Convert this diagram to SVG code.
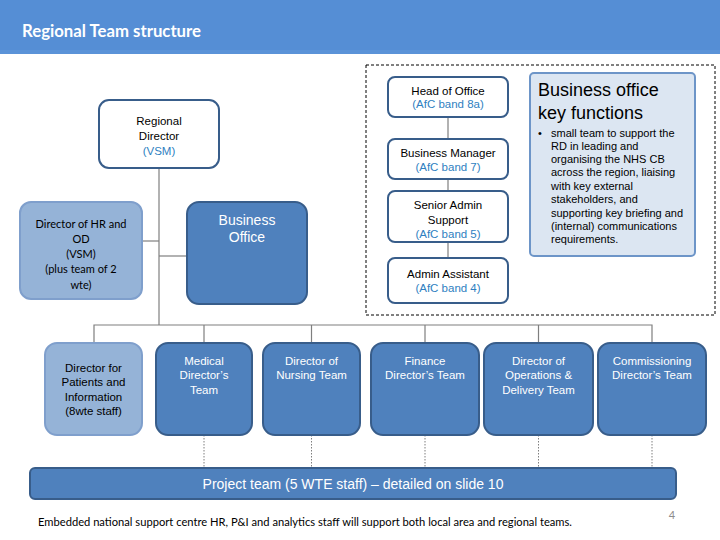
<svg xmlns="http://www.w3.org/2000/svg" width="720" height="540" viewBox="0 0 720 540">
<style>
.t{font-family:"Liberation Sans",Arial,sans-serif;font-size:11.5px;text-anchor:middle}
.big{font-size:14px}
.dk{fill:#000}
.wh{fill:#fff}
.bl{fill:#2F7FC1}
.white{fill:#fff;stroke:#385D8A;stroke-width:2}
.dark{fill:#4F81BD;stroke:#385D8A;stroke-width:2}
.light{fill:#95B3D7;stroke:#7F9FCC;stroke-width:2}
.con{stroke:#7F7F7F;stroke-width:1.2;fill:none}
.dot{stroke:#7F7F7F;stroke-width:1;stroke-dasharray:1.5 1.5;fill:none}
</style>
<rect x="0" y="0" width="720" height="50" fill="#558ED5"/>
<rect x="0" y="50" width="720" height="4" fill="#5B93D8"/>
<text x="22" y="37" font-family="Lato,'Open Sans',sans-serif" font-size="16.5" font-weight="bold" fill="#fff" textLength="179" lengthAdjust="spacingAndGlyphs">Regional Team structure</text>

<g id="connectors">
<line class="con" x1="159" y1="168" x2="159" y2="325"/>
<line class="con" x1="142" y1="241" x2="159" y2="241"/>
<line class="con" x1="159" y1="256" x2="187" y2="256"/>
<polyline class="con" points="94,343 94,325 652,325 652,343"/>
<line class="con" x1="204" y1="325" x2="204" y2="343"/>
<line class="con" x1="311.5" y1="325" x2="311.5" y2="343"/>
<line class="con" x1="425" y1="325" x2="425" y2="343"/>
<line class="con" x1="538.5" y1="325" x2="538.5" y2="343"/>
<line class="con" x1="448" y1="117" x2="448" y2="139"/>
<line class="con" x1="448" y1="179" x2="448" y2="191"/>
<line class="con" x1="448" y1="242" x2="448" y2="258"/>
<line class="dot" x1="204" y1="435" x2="204" y2="468"/>
<line class="dot" x1="311.5" y1="435" x2="311.5" y2="468"/>
<line class="dot" x1="425" y1="435" x2="425" y2="468"/>
<line class="dot" x1="538.5" y1="435" x2="538.5" y2="468"/>
<line class="dot" x1="652" y1="435" x2="652" y2="468"/>
</g>

<rect id="business-office-frame" x="366" y="65" width="349" height="250" fill="none" stroke="#000" stroke-width="1" stroke-dasharray="3 2"/>

<g id="regional-director">
<rect class="white" x="99" y="100" width="120" height="68" rx="10"/>
<text class="t dk" x="159" y="125">Regional</text>
<text class="t dk" x="159" y="140">Director</text>
<text class="t bl" x="159" y="155">(VSM)</text>
</g>

<g id="director-hr">
<rect class="light" x="20" y="202" width="122" height="97" rx="11"/>
<g font-family="Lato,'Open Sans',sans-serif" font-size="11" text-anchor="middle" fill="#000">
<text x="81" y="228">Director of HR and</text>
<text x="81" y="243">OD</text>
<text x="81" y="258">(VSM)</text>
<text x="81" y="273">(plus team of 2</text>
<text x="81" y="289">wte)</text>
</g>
</g>

<g id="business-office">
<rect class="dark" x="187" y="202" width="120" height="102" rx="12"/>
<text class="t big wh" x="247" y="225">Business</text>
<text class="t big wh" x="247" y="242">Office</text>
</g>

<g id="head-of-office">
<rect class="white" x="388" y="77" width="120" height="40" rx="7"/>
<text class="t dk" x="448" y="95">Head of Office</text>
<text class="t bl" x="448" y="108">(AfC band 8a)</text>
</g>
<g id="business-manager">
<rect class="white" x="388" y="139" width="120" height="40" rx="7"/>
<text class="t dk" x="448" y="157">Business Manager</text>
<text class="t bl" x="448" y="171">(AfC band 7)</text>
</g>
<g id="senior-admin">
<rect class="white" x="388" y="191" width="120" height="51" rx="7"/>
<text class="t dk" x="448" y="209">Senior Admin</text>
<text class="t dk" x="448" y="224">Support</text>
<text class="t bl" x="448" y="238">(AfC band 5)</text>
</g>
<g id="admin-assistant">
<rect class="white" x="388" y="258" width="120" height="45" rx="7"/>
<text class="t dk" x="448" y="278">Admin Assistant</text>
<text class="t bl" x="448" y="292">(AfC band 4)</text>
</g>

<g id="key-functions">
<rect x="530" y="73" width="165" height="183" rx="4" fill="#DCE6F2" stroke="#6D95C8" stroke-width="2"/>
<g font-family="Liberation Sans,Arial,sans-serif" fill="#000">
<text x="538" y="96" font-size="18">Business office</text>
<text x="538" y="119" font-size="18">key functions</text>
<g font-size="11">
<text x="538" y="137">•</text>
<text x="551" y="137">small team to support the</text>
<text x="551" y="150">RD in leading and</text>
<text x="551" y="163">organising the NHS CB</text>
<text x="551" y="176">across the region, liaising</text>
<text x="551" y="190">with key external</text>
<text x="551" y="203">stakeholders, and</text>
<text x="551" y="217">supporting key briefing and</text>
<text x="551" y="230">(internal) communications</text>
<text x="551" y="243">requirements.</text>
</g>
</g>
</g>

<g id="director-patients">
<rect class="light" x="45" y="343" width="97" height="92" rx="12"/>
<text class="t dk" x="93.5" y="372">Director for</text>
<text class="t dk" x="93.5" y="386">Patients and</text>
<text class="t dk" x="93.5" y="401">Information</text>
<text class="t dk" x="93.5" y="415">(8wte staff)</text>
</g>
<g id="medical-director">
<rect class="dark" x="156" y="343" width="96" height="92" rx="12"/>
<text class="t wh" x="204" y="365">Medical</text>
<text class="t wh" x="204" y="379">Director’s</text>
<text class="t wh" x="204" y="394">Team</text>
</g>
<g id="director-nursing">
<rect class="dark" x="263" y="343" width="97" height="92" rx="12"/>
<text class="t wh" x="311.5" y="365">Director of</text>
<text class="t wh" x="311.5" y="379">Nursing Team</text>
</g>
<g id="finance-director">
<rect class="dark" x="371" y="343" width="108" height="92" rx="12"/>
<text class="t wh" x="425" y="365">Finance</text>
<text class="t wh" x="425" y="379">Director’s Team</text>
</g>
<g id="director-operations">
<rect class="dark" x="484" y="343" width="109" height="92" rx="12"/>
<text class="t wh" x="538.5" y="365">Director of</text>
<text class="t wh" x="538.5" y="379">Operations &amp;</text>
<text class="t wh" x="538.5" y="394">Delivery Team</text>
</g>
<g id="commissioning-director">
<rect class="dark" x="598" y="343" width="108" height="92" rx="12"/>
<text class="t wh" x="652" y="365">Commissioning</text>
<text class="t wh" x="652" y="379">Director’s Team</text>
</g>

<g id="project-team">
<rect class="dark" x="30" y="468" width="646" height="31" rx="5"/>
<text class="t big wh" x="353" y="489">Project team (5 WTE staff) – detailed on slide 10</text>
</g>

<text x="38" y="526" font-family="Lato,'Open Sans',sans-serif" font-size="11" fill="#000" textLength="534" lengthAdjust="spacingAndGlyphs">Embedded national support centre HR, P&amp;I and analytics staff will support both local area and regional teams.</text>
<text x="672" y="519" font-family="Lato,'Open Sans',sans-serif" font-size="11" fill="#8C8C8C" text-anchor="middle">4</text>
</svg>
